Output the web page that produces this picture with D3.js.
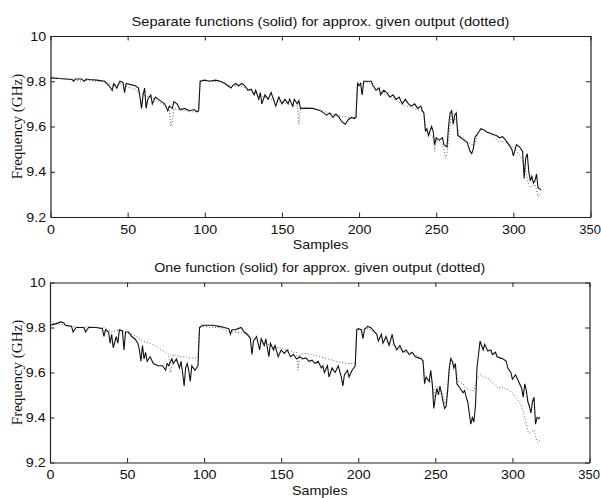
<!DOCTYPE html>
<html>
<head>
<meta charset="utf-8">
<script src="https://cdn.jsdelivr.net/npm/d3@7"></script>
<style>
html,body{margin:0;padding:0;background:#fff;}
svg{display:block;}
</style>
</head>
<body>
<svg id="chart" width="601" height="498"></svg>
<script>
// ---- data (sample index, frequency in GHz) ----
const xTicks = [0, 50, 100, 150, 200, 250, 300, 350];
const yTicks = [9.2, 9.4, 9.6, 9.8, 10];
const titles = ["Separate functions (solid) for approx. given output (dotted)",
                "One function (solid) for approx. given output (dotted)"];
const xLabel = "Samples";
const yLabel = "Frequency (GHz)";

// given output (dotted), shared by both panels
const givenX = [0,5,10,15,20,25,30,35,38,40,43,45,48,50,55,58,60,62,65,68,70,72,75,77,78,79,80,82,85,88,90,93,95,96,97,100,105,110,115,118,120,125,128,130,133,135,138,140,143,145,148,150,153,155,158,160,161,162,165,170,175,178,180,183,185,188,190,193,195,198,199,202,205,208,210,213,215,218,220,223,225,228,230,233,235,238,240,242,243,245,248,249,250,253,255,256,257,259,260,262,263,265,268,270,272,273,275,277,279,283,285,288,291,293,295,298,300,302,305,307,308,310,311,313,314,316,318];
const givenY = [9.82,9.815,9.81,9.805,9.80,9.805,9.80,9.80,9.79,9.78,9.785,9.79,9.78,9.775,9.765,9.75,9.74,9.735,9.73,9.72,9.71,9.70,9.69,9.68,9.60,9.62,9.68,9.675,9.67,9.67,9.665,9.665,9.665,9.67,9.80,9.805,9.80,9.80,9.785,9.78,9.78,9.775,9.765,9.76,9.745,9.74,9.73,9.73,9.72,9.715,9.71,9.71,9.70,9.70,9.69,9.69,9.61,9.68,9.685,9.68,9.67,9.665,9.66,9.655,9.65,9.645,9.645,9.64,9.64,9.64,9.79,9.79,9.795,9.79,9.78,9.76,9.75,9.74,9.73,9.72,9.71,9.70,9.69,9.69,9.68,9.675,9.67,9.66,9.59,9.57,9.55,9.49,9.54,9.53,9.50,9.46,9.48,9.60,9.67,9.64,9.62,9.56,9.55,9.53,9.525,9.52,9.52,9.57,9.59,9.575,9.57,9.55,9.53,9.535,9.53,9.52,9.51,9.49,9.465,9.43,9.40,9.34,9.33,9.34,9.345,9.29,9.30];

// panel 1 solid: separate functions
const sepX = [0,5,10,14,15,16,20,22,23,25,30,35,38,40,41,43,45,47,48,49,52,55,57,58,59,60,61,62,63,65,66,68,70,72,74,76,77,79,80,82,84,87,90,93,95,96,97,100,103,107,110,113,115,117,118,120,122,124,126,128,130,132,133,135,136,137,139,141,143,145,146,148,150,152,154,155,157,158,160,161,162,165,170,175,177,179,181,183,185,187,189,191,193,195,197,198,199,200,201,202,203,205,208,209,211,213,214,216,218,220,222,224,226,228,230,232,234,236,238,240,241,242,243,244,245,247,248,249,250,252,254,255,257,258,259,260,261,262,263,264,266,268,270,272,273,274,275,277,279,281,283,285,287,289,291,293,295,297,299,300,302,304,306,307,308,309,310,311,312,313,314,315,316,318];
const sepY = [9.815,9.812,9.81,9.808,9.80,9.81,9.81,9.80,9.81,9.808,9.805,9.80,9.78,9.76,9.79,9.77,9.80,9.795,9.75,9.79,9.785,9.78,9.77,9.73,9.68,9.74,9.77,9.68,9.72,9.74,9.70,9.73,9.72,9.71,9.70,9.67,9.69,9.68,9.71,9.70,9.675,9.68,9.67,9.675,9.665,9.67,9.80,9.805,9.80,9.805,9.80,9.79,9.78,9.77,9.78,9.79,9.78,9.79,9.78,9.76,9.765,9.74,9.76,9.72,9.75,9.70,9.74,9.72,9.75,9.71,9.69,9.73,9.70,9.72,9.70,9.72,9.69,9.72,9.70,9.715,9.68,9.68,9.68,9.67,9.66,9.65,9.66,9.64,9.655,9.64,9.62,9.61,9.63,9.64,9.635,9.64,9.79,9.78,9.79,9.74,9.80,9.80,9.80,9.78,9.76,9.77,9.74,9.76,9.75,9.73,9.74,9.72,9.73,9.70,9.72,9.70,9.69,9.70,9.68,9.69,9.67,9.66,9.58,9.59,9.56,9.60,9.58,9.52,9.55,9.54,9.55,9.52,9.51,9.60,9.66,9.67,9.61,9.65,9.66,9.56,9.55,9.54,9.53,9.49,9.48,9.50,9.55,9.57,9.59,9.585,9.575,9.57,9.565,9.56,9.55,9.555,9.54,9.52,9.50,9.47,9.52,9.51,9.49,9.37,9.46,9.48,9.40,9.36,9.38,9.35,9.36,9.39,9.33,9.32];

// panel 2 solid: one function
const oneX = [0,3,7,9,10,14,15,17,22,23,25,30,34,35,36,38,39,40,41,43,44,45,47,48,49,51,53,55,57,58,59,60,61,62,63,65,67,70,73,75,76,77,79,80,82,84,85,86,87,88,89,90,91,92,94,95,96,97,99,105,110,113,116,117,118,120,122,124,126,128,130,131,132,134,136,137,139,140,141,142,143,145,146,148,150,152,154,156,158,160,162,164,166,168,170,172,174,176,177,178,180,181,183,185,187,189,190,191,193,194,196,197,198,199,200,202,203,204,206,208,210,212,213,215,216,218,220,222,223,225,227,229,231,233,235,237,239,241,242,243,244,246,247,248,249,250,251,252,253,255,256,257,258,259,260,261,262,263,264,266,268,269,270,271,272,273,274,275,276,277,278,279,280,281,282,284,286,287,289,290,292,294,296,297,299,300,302,304,306,307,308,309,310,311,312,313,314,315,316,317,318];
const oneY = [9.81,9.815,9.825,9.82,9.81,9.805,9.78,9.80,9.80,9.78,9.80,9.80,9.795,9.76,9.79,9.78,9.73,9.77,9.71,9.76,9.73,9.79,9.785,9.70,9.78,9.78,9.76,9.75,9.73,9.70,9.65,9.72,9.66,9.69,9.65,9.67,9.64,9.63,9.63,9.61,9.64,9.63,9.66,9.64,9.66,9.62,9.65,9.60,9.54,9.62,9.64,9.61,9.56,9.63,9.61,9.62,9.63,9.80,9.81,9.81,9.805,9.80,9.795,9.77,9.79,9.79,9.795,9.80,9.78,9.77,9.75,9.68,9.74,9.76,9.70,9.75,9.72,9.75,9.71,9.67,9.73,9.70,9.72,9.67,9.70,9.685,9.70,9.67,9.68,9.66,9.67,9.66,9.665,9.65,9.655,9.64,9.65,9.62,9.63,9.60,9.63,9.58,9.62,9.60,9.63,9.58,9.54,9.59,9.61,9.58,9.61,9.62,9.63,9.79,9.795,9.79,9.75,9.79,9.805,9.80,9.785,9.77,9.74,9.77,9.73,9.76,9.72,9.77,9.73,9.70,9.72,9.69,9.70,9.68,9.69,9.67,9.665,9.66,9.65,9.55,9.58,9.56,9.61,9.55,9.44,9.49,9.53,9.50,9.54,9.47,9.44,9.45,9.52,9.62,9.66,9.65,9.62,9.64,9.55,9.53,9.51,9.52,9.49,9.47,9.42,9.37,9.40,9.38,9.45,9.62,9.68,9.74,9.72,9.70,9.725,9.695,9.70,9.68,9.69,9.67,9.665,9.66,9.65,9.62,9.60,9.57,9.59,9.56,9.53,9.49,9.55,9.52,9.47,9.45,9.42,9.47,9.49,9.37,9.40,9.395,9.40];

// ---- drawing ----
const svg = d3.select("#chart");
const W = 601, H = 498;
svg.append("rect").attr("width", W).attr("height", H).attr("fill", "#fff");

const panels = [
  {top: 36, bottom: 217, left: 50.5, right: 590.5, solidX: sepX, solidY: sepY, title: titles[0], titleLen: 378},
  {top: 282.5, bottom: 462.5, left: 50, right: 589.5, solidX: oneX, solidY: oneY, title: titles[1], titleLen: 331}
];

const sans = "'Liberation Sans', Arial, Helvetica, sans-serif";
const serif = "'Liberation Serif', 'Times New Roman', serif";
const stretch = "scale(1.1,1)";

panels.forEach(p => {
  const x = d3.scaleLinear().domain([0, 350]).range([p.left, p.right]);
  const y = d3.scaleLinear().domain([9.2, 10]).range([p.bottom, p.top]);
  const g = svg.append("g");

  // axes (MATLAB style: inward ticks on all sides)
  const tk = 4.5;
  const axB = d3.axisBottom(x).tickValues(xTicks).tickSize(-tk).tickSizeOuter(0).tickPadding(7.5).tickFormat(d3.format("d"));
  const axT = d3.axisTop(x).tickValues(xTicks).tickSize(-tk).tickSizeOuter(0).tickFormat("");
  const axL = d3.axisLeft(y).tickValues(yTicks).tickSize(-tk).tickSizeOuter(0).tickPadding(4).tickFormat(d => d === 10 ? "10" : d3.format(".1f")(d));
  const axR = d3.axisRight(y).tickValues(yTicks).tickSize(-tk).tickSizeOuter(0).tickFormat("");

  const gb = g.append("g").attr("transform", `translate(0,${p.bottom})`).call(axB);
  const gt = g.append("g").attr("transform", `translate(0,${p.top})`).call(axT);
  const gl = g.append("g").attr("transform", `translate(${p.left},0)`).call(axL);
  const gr = g.append("g").attr("transform", `translate(${p.right},0)`).call(axR);
  [gb, gt, gl, gr].forEach(a => {
    a.select(".domain").attr("stroke", "#222").attr("stroke-width", 1.2);
    a.selectAll(".tick line").attr("stroke", "#222").attr("stroke-width", 1);
    a.selectAll("text").attr("font-family", sans).attr("font-size", 13)
      .attr("fill", "#111").attr("transform", stretch);
  });
  // keep the last x label inside the page
  gb.selectAll(".tick").filter(d => d === 350).select("text")
    .attr("transform", null).attr("text-anchor", "end").attr("x", 10);

  // given output (dotted)
  const dotLine = d3.line().x((d, i) => x(givenX[i])).y((d, i) => y(givenY[i]));
  g.append("path").datum(givenY).attr("d", dotLine)
    .attr("fill", "none").attr("stroke", "#666").attr("stroke-width", 1)
    .attr("stroke-dasharray", "1,2");

  // approximation (solid)
  const solLine = d3.line().x((d, i) => x(p.solidX[i])).y((d, i) => y(p.solidY[i]));
  g.append("path").datum(p.solidY).attr("d", solLine)
    .attr("fill", "none").attr("stroke", "#111").attr("stroke-width", 1.1);

  // title
  g.append("text").attr("x", (p.left + p.right) / 2).attr("y", p.top - 10.5)
    .attr("text-anchor", "middle").attr("font-family", sans).attr("font-size", 13)
    .attr("textLength", p.titleLen).attr("lengthAdjust", "spacingAndGlyphs")
    .attr("fill", "#111").text(p.title);

  // x label
  const cx = (p.left + p.right) / 2;
  g.append("text").attr("transform", `translate(${cx},${p.bottom + 32}) ${stretch}`)
    .attr("text-anchor", "middle").attr("font-family", sans).attr("font-size", 13)
    .attr("fill", "#111").text(xLabel);

  // y label
  g.append("text").attr("transform", `translate(22,${(p.top + p.bottom) / 2}) rotate(-90)`)
    .attr("text-anchor", "middle").attr("font-family", serif).attr("font-size", 15)
    .attr("fill", "#111").text(yLabel);
});
</script>
</body>
</html>
